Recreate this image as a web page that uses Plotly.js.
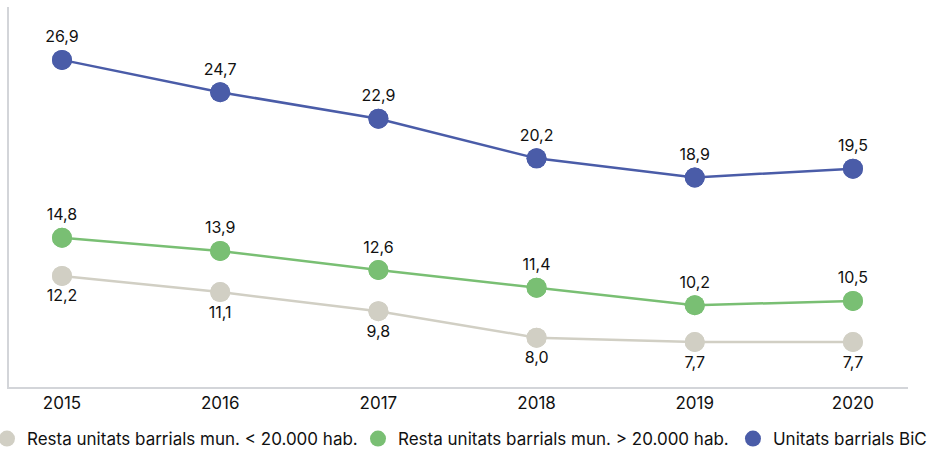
<!DOCTYPE html>
<html>
<head>
<meta charset="utf-8">
<script src="https://cdn.plot.ly/plotly-3.0.1.min.js"></script>
<style>
html, body { margin: 0; padding: 0; background: #fff; }
#chart { width: 931px; height: 451px; }
</style>
</head>
<body>
<div id="chart"></div>
<script>
const years = ["2015", "2016", "2017", "2018", "2019", "2020"];
const seriesNames = [
  "Resta unitats barrials mun. < 20.000 hab.",
  "Resta unitats barrials mun. > 20.000 hab.",
  "Unitats barrials BiC"
];
const restaSmall = [12.2, 11.1, 9.8, 8.0, 7.7, 7.7];
const restaLarge = [14.8, 13.9, 12.6, 11.4, 10.2, 10.5];
const bic = [26.9, 24.7, 22.9, 20.2, 18.9, 19.5];
const colors = ["#d1cfc4", "#79bf73", "#4a5ca8"];
const labelPos = ["bottom center", "top center", "top center"];

const fmt = v => v.toFixed(1).replace('.', ',');
const allSeries = [restaSmall, restaLarge, bic];
const FONT = 'Inter, Roboto, sans-serif';
const legendIds = ['legend', 'legend2', 'legend3'];
const legendX = [-0.0245, 0.3882, 0.8053];

const traces = [];
allSeries.forEach((vals, i) => {
  traces.push({
    type: 'scatter',
    mode: 'lines+markers+text',
    name: seriesNames[i],
    x: years,
    y: vals,
    text: vals.map(fmt),
    textposition: labelPos[i],
    textfont: { family: FONT, size: 16, color: '#111' },
    line: { color: colors[i], width: 2.5 },
    marker: { color: colors[i], size: 20 },
    cliponaxis: false,
    showlegend: false
  });
});
// legend entries (markers only, drawn on the same points)
allSeries.forEach((vals, i) => {
  traces.push({
    type: 'scatter',
    mode: 'markers',
    name: seriesNames[i],
    x: years,
    y: vals,
    marker: { color: colors[i], size: 20 },
    cliponaxis: false,
    showlegend: true,
    legend: legendIds[i]
  });
});

const layout = {
  width: 931,
  height: 451,
  margin: { l: 9, r: 23, t: 7, b: 64, autoexpand: false },
  paper_bgcolor: '#fff',
  plot_bgcolor: '#fff',
  font: { family: FONT, color: '#111' },
  showlegend: true,
  xaxis: {
    type: 'category',
    range: [-0.335, 5.348],
    showgrid: false,
    zeroline: false,
    showline: true,
    linecolor: '#d3d5d9',
    linewidth: 2,
    ticks: '',
    tickfont: { family: FONT, size: 17, color: '#111' },
    fixedrange: true
  },
  yaxis: {
    range: [4.64, 30.5],
    showgrid: false,
    zeroline: false,
    showline: true,
    linecolor: '#d3d5d9',
    linewidth: 2,
    showticklabels: false,
    ticks: '',
    fixedrange: true
  }
};
legendIds.forEach((id, i) => {
  layout[id] = {
    orientation: 'h',
    x: legendX[i],
    xanchor: 'left',
    y: -0.137,
    yanchor: 'middle',
    bgcolor: 'rgba(0,0,0,0)',
    font: { family: FONT, size: 17, color: '#111' }
  };
});

Plotly.newPlot('chart', traces, layout, { displayModeBar: false, staticPlot: true });
</script>
</body>
</html>
